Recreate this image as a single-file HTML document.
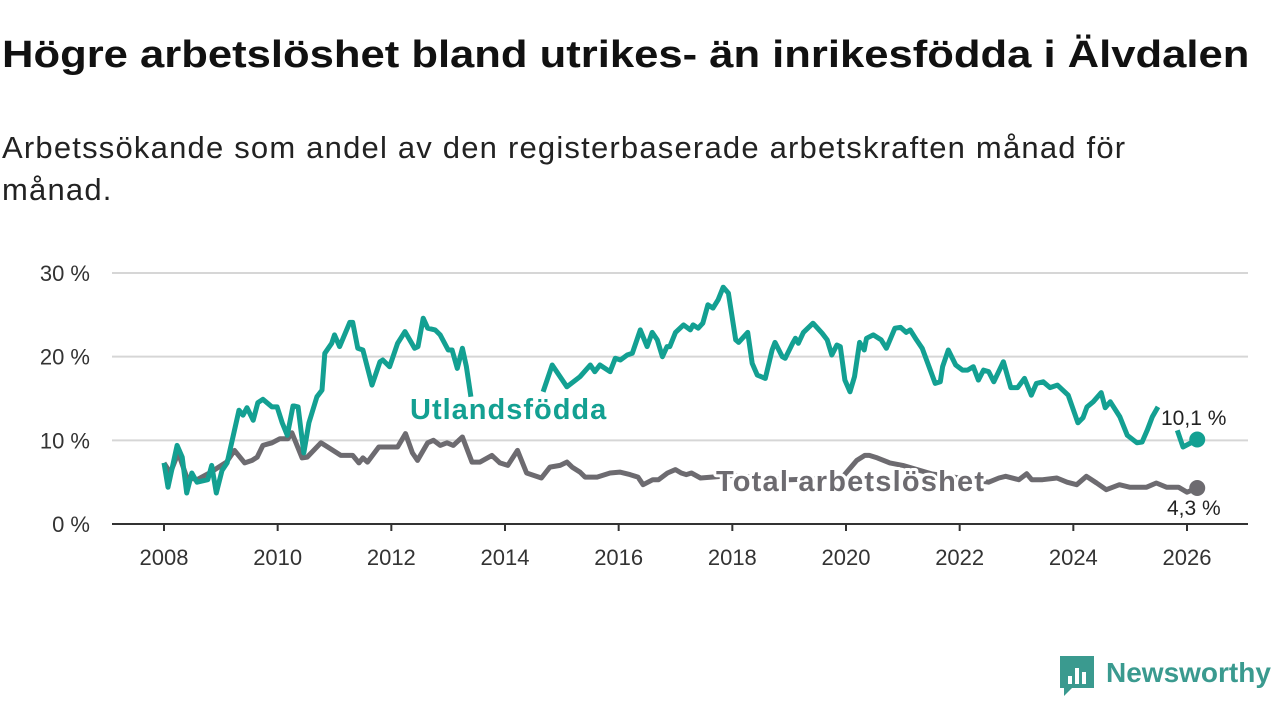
<!DOCTYPE html>
<html><head><meta charset="utf-8"><style>
body{margin:0;background:#fff;font-family:"Liberation Sans",sans-serif;}
#wrap{position:relative;width:1280px;height:720px;overflow:hidden;}
h1{position:absolute;left:2px;top:34px;margin:0;font-size:38px;font-weight:bold;color:#111;white-space:nowrap;transform:scaleX(1.147);transform-origin:0 0;}
p.sub{position:absolute;left:2px;top:127px;margin:0;font-size:31px;line-height:42px;color:#222;width:1180px;letter-spacing:1.2px;}
svg{position:absolute;left:0;top:0;}
</style></head><body>
<div id="wrap">
<h1>Högre arbetslöshet bland utrikes- än inrikesfödda i Älvdalen</h1>
<p class="sub">Arbetssökande som andel av den registerbaserade arbetskraften månad för månad.</p>
<svg id="chart" width="1280" height="720"></svg>
</div>
<script>
const yTicks=[0,10,20,30];
const yTickLabels=["0 %","10 %","20 %","30 %"];
const xTicks=[2008,2010,2012,2014,2016,2018,2020,2022,2024,2026];
const foreignDates=[2008.0,2008.07,2008.23,2008.32,2008.4,2008.49,2008.58,2008.77,2008.84,2008.92,2009.02,2009.11,2009.2,2009.32,2009.39,2009.46,2009.57,2009.65,2009.74,2009.9,2009.99,2010.08,2010.17,2010.27,2010.29,2010.36,2010.46,2010.55,2010.69,2010.78,2010.83,2010.95,2011.0,2011.09,2011.27,2011.32,2011.41,2011.5,2011.66,2011.8,2011.85,2011.97,2012.11,2012.24,2012.41,2012.47,2012.56,2012.64,2012.77,2012.86,2013.0,2013.07,2013.16,2013.25,2013.32,2013.4,2013.41,2014.67,2014.83,2015.09,2015.32,2015.5,2015.58,2015.67,2015.85,2015.94,2016.03,2016.15,2016.24,2016.38,2016.5,2016.59,2016.68,2016.77,2016.85,2016.9,2017.0,2017.14,2017.26,2017.31,2017.4,2017.48,2017.57,2017.66,2017.75,2017.84,2017.93,2018.06,2018.11,2018.27,2018.35,2018.44,2018.58,2018.7,2018.75,2018.88,2018.93,2019.06,2019.11,2019.16,2019.25,2019.42,2019.58,2019.67,2019.75,2019.84,2019.9,2019.98,2020.07,2020.15,2020.24,2020.32,2020.36,2020.48,2020.62,2020.71,2020.86,2020.96,2021.06,2021.13,2021.24,2021.34,2021.44,2021.57,2021.66,2021.7,2021.8,2021.93,2022.05,2022.14,2022.24,2022.33,2022.42,2022.51,2022.6,2022.77,2022.9,2023.02,2023.14,2023.26,2023.35,2023.47,2023.59,2023.72,2023.91,2024.08,2024.17,2024.24,2024.35,2024.49,2024.56,2024.65,2024.82,2024.95,2025.12,2025.21,2025.3,2025.39,2025.49,2025.5,2025.83,2025.93,2026.18];
const foreignValues=[7.3,4.4,9.4,8.0,3.7,6.1,5.0,5.3,7.0,3.7,6.4,7.3,10.0,13.6,13.0,13.9,12.4,14.5,14.9,14.0,14.0,12.1,10.6,14.1,14.1,14.0,8.5,12.1,15.2,16.0,20.4,21.6,22.6,21.2,24.1,24.1,21.0,20.8,16.6,19.4,19.6,18.8,21.6,23.0,21.0,21.2,24.6,23.4,23.2,22.6,20.8,20.8,18.6,21.0,18.8,15.2,null,15.8,19.0,16.4,17.6,19.0,18.2,19.0,18.2,19.8,19.6,20.2,20.4,23.2,21.2,22.9,22.0,20.0,21.2,21.2,22.9,23.8,23.2,23.8,23.4,24.0,26.2,25.8,26.8,28.3,27.6,22.0,21.7,22.9,19.2,17.8,17.4,20.8,21.7,20.0,19.8,21.6,22.2,21.6,22.9,24.0,22.8,22.0,20.2,21.4,21.2,17.2,15.8,17.6,21.7,20.8,22.2,22.6,22.0,21.0,23.4,23.5,22.9,23.2,22.0,21.0,19.2,16.8,17.0,18.8,20.8,19.0,18.4,18.4,18.8,17.2,18.4,18.2,17.0,19.4,16.3,16.3,17.4,15.4,16.8,17.0,16.3,16.6,15.4,12.1,12.7,14.0,14.6,15.7,13.9,14.6,12.8,10.6,9.7,9.8,11.2,12.8,14.0,null,11.2,9.2,10.1];
const totalDates=[2008.0,2008.11,2008.25,2008.4,2008.58,2008.8,2009.1,2009.24,2009.42,2009.55,2009.64,2009.74,2009.9,2010.04,2010.18,2010.25,2010.43,2010.52,2010.76,2010.88,2011.11,2011.32,2011.43,2011.5,2011.58,2011.78,2011.94,2012.11,2012.25,2012.37,2012.46,2012.64,2012.74,2012.86,2012.98,2013.09,2013.25,2013.42,2013.56,2013.77,2013.91,2014.05,2014.22,2014.38,2014.64,2014.79,2014.97,2015.09,2015.18,2015.32,2015.41,2015.62,2015.85,2016.02,2016.2,2016.34,2016.43,2016.6,2016.7,2016.86,2017.0,2017.1,2017.19,2017.28,2017.44,2018.0,2018.5,2019.0,2019.5,2019.95,2020.19,2020.33,2020.41,2020.55,2020.77,2021.0,2021.5,2022.0,2022.51,2022.69,2022.81,2023.04,2023.18,2023.27,2023.46,2023.71,2023.89,2024.06,2024.23,2024.41,2024.58,2024.81,2024.99,2025.29,2025.46,2025.64,2025.85,2026.0,2026.18];
const totalValues=[7.3,6.1,8.5,5.6,5.3,6.1,7.4,8.8,7.3,7.6,8.0,9.4,9.7,10.2,10.2,10.9,7.9,8.0,9.7,9.2,8.2,8.2,7.3,7.9,7.4,9.2,9.2,9.2,10.8,8.5,7.6,9.7,10.0,9.4,9.7,9.4,10.4,7.4,7.4,8.2,7.3,7.0,8.8,6.1,5.5,6.8,7.0,7.4,6.8,6.2,5.6,5.6,6.1,6.2,5.9,5.6,4.7,5.3,5.3,6.1,6.5,6.1,5.9,6.1,5.5,5.8,5.5,5.3,5.4,5.7,7.6,8.2,8.2,7.9,7.3,7.0,6.0,5.5,5.0,5.5,5.7,5.3,6.0,5.3,5.3,5.5,5.0,4.7,5.7,4.9,4.1,4.7,4.4,4.4,4.9,4.4,4.4,3.8,4.3];
const NS='http://www.w3.org/2000/svg';
const svg=document.getElementById('chart');
const X0=112,X1=1248;
function xScale(t){return 164+(t-2008)*(1187-164)/18;}
function yScale(v){return 524-v*(524-273)/30;}
function mk(tag,attrs,parent){const e=document.createElementNS(NS,tag);for(const k in attrs)e.setAttribute(k,attrs[k]);(parent||svg).appendChild(e);return e;}
yTicks.forEach((v,i)=>{
 if(v>0){const g=mk('line',{x1:X0,x2:X1,y1:yScale(v),y2:yScale(v),stroke:'#d6d6d6','stroke-width':2});
 
 }
 const t=mk('text',{x:90,y:yScale(v)+8,'text-anchor':'end','font-size':22,fill:'#333'});
 t.textContent=yTickLabels[i];
 
 
});
const ax=mk('line',{x1:X0,x2:X1,y1:524,y2:524,stroke:'#333','stroke-width':2});


xTicks.forEach(yr=>{
 const tk=mk('line',{x1:xScale(yr),x2:xScale(yr),y1:524,y2:531,stroke:'#333','stroke-width':2});
 
 
 const t=mk('text',{x:xScale(yr),y:565,'text-anchor':'middle','font-size':22,fill:'#333'});
 t.textContent=yr;
 
 
});
function pathFrom(ds,vs){let d='',pen=false;ds.forEach((t,i)=>{const v=vs[i];if(v===null){pen=false;return;}d+=(pen?'L':'M')+xScale(t).toFixed(1)+','+yScale(v).toFixed(1);pen=true;});return d;}
const lt=mk('path',{d:pathFrom(totalDates,totalValues),fill:'none',stroke:'#6d6b70','stroke-width':5,'stroke-linejoin':'round'});


const lf=mk('path',{d:pathFrom(foreignDates,foreignValues),fill:'none',stroke:'#13a092','stroke-width':5,'stroke-linejoin':'round'});


const nF=foreignDates.length-1,nT=totalDates.length-1;
const df=mk('circle',{cx:xScale(foreignDates[nF]),cy:yScale(foreignValues[nF]),r:8,fill:'#13a092'});


const dt=mk('circle',{cx:xScale(totalDates[nT]),cy:yScale(totalValues[nT]),r:8,fill:'#6d6b70'});


function label(txt,x,y,size,fill,bold,name,ls){const t=mk('text',{x:x,y:y,'font-size':size,fill:fill,'font-weight':bold?'bold':'normal','letter-spacing':ls||0,stroke:'#fff','stroke-width':6,'paint-order':'stroke','stroke-linejoin':'round'});t.textContent=txt;return t;}
label('Utlandsfödda',410,419,29,'#13a092',true,'foreign-born-label',1);
label('Total arbetslöshet',716,491,29,'#6d6b70',true,'total-label',1.2);
label('10,1 %',1161,425,21,'#222',false,'foreign-born-end-value');
label('4,3 %',1167,515,21,'#222',false,'total-end-value');
const g=mk('g',{});


mk('path',{d:'M1060,656 h34 v32 h-22 l-8,8 v-8 h-4 z',fill:'#3a9a8f'},g);
[[1068,676,4,8],[1075,668,4,16],[1082,672,4,12]].forEach(r=>mk('rect',{x:r[0],y:r[1],width:r[2],height:r[3],fill:'#fff'},g));
const lg=mk('text',{x:1106,y:682,'font-size':28,'font-weight':'bold',fill:'#3a9a8f'},g);
lg.textContent='Newsworthy';
</script>
</body></html>
